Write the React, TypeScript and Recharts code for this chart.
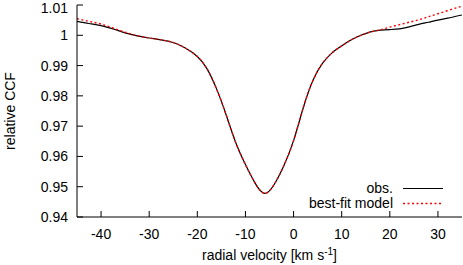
import { Legend, Line, LineChart, XAxis, YAxis } from 'recharts'

const velocity = [
  -45, -42.5, -40, -37.5, -35, -32.5, -30, -27.5, -25, -22.5, -20, -18, -16, -14, -12, -10, -8, -6, -4, -2, 0, 2, 4,
  6, 8, 10, 12, 14, 16, 18, 20, 22, 24, 26, 28, 30, 32.5, 35,
]
const observed = [
  1.0046, 1.0039, 1.0032, 1.0021, 1.0008, 0.9998, 0.9991, 0.9985, 0.9976, 0.9958, 0.993, 0.989, 0.9823, 0.9737, 0.9645,
  0.9573, 0.9512, 0.9478, 0.9508, 0.957, 0.9652, 0.976, 0.985, 0.9907, 0.9942, 0.9965, 0.9985, 1.0, 1.0011, 1.0017,
  1.0019, 1.0021, 1.0028, 1.0036, 1.0043, 1.005, 1.0058, 1.0067,
]
const bestFit = [
  1.0055, 1.0046, 1.0037, 1.0024, 1.001, 0.9999, 0.9991, 0.9985, 0.9976, 0.9958, 0.993, 0.989, 0.9823, 0.9737, 0.9645,
  0.9573, 0.9512, 0.9478, 0.9508, 0.957, 0.9652, 0.976, 0.985, 0.9907, 0.9942, 0.9965, 0.9985, 1.0, 1.0011, 1.0018,
  1.0027, 1.0035, 1.0043, 1.0051, 1.0061, 1.0071, 1.0084, 1.0096,
]
const xTicks = [-40, -30, -20, -10, 0, 10, 20, 30]
const yTicks = [0.94, 0.95, 0.96, 0.97, 0.98, 0.99, 1.0, 1.01]

const series = [
  { key: 'obs', name: 'obs.', color: '#000000', dash: undefined, width: 1.2 },
  { key: 'model', name: 'best-fit model', color: '#ff0000', dash: '2 2.5', width: 1.4 },
]

const data = velocity.map((v, i) => ({ v, obs: observed[i], model: bestFit[i] }))

const font = "'Liberation Sans', Arial, sans-serif"
const tickStyle = { fontSize: 14, fill: '#000', fontFamily: font }
const noLabel = () => <g />

const LegendBox = () => (
  <div style={{ fontFamily: font, fontSize: 14, color: '#000', lineHeight: '15px' }}>
    {series.map((s) => (
      <div key={s.key} style={{ display: 'flex', alignItems: 'center', justifyContent: 'flex-end' }}>
        <span>{s.name}</span>
        <svg width={52} height={15}>
          <line x1={10} x2={50} y1={7.5} y2={7.5} stroke={s.color} strokeWidth={s.width} strokeDasharray={s.dash} />
        </svg>
      </div>
    ))}
  </div>
)

const XLabel = ({ viewBox }: any) => (
  <text x={viewBox.x + viewBox.width / 2} y={viewBox.y + 43} textAnchor='middle' fontSize={14} fontFamily={font} fill='#000'>
    radial velocity [km s
    <tspan dy={-5} fontSize={10}>
      -1
    </tspan>
    <tspan dy={5}>]</tspan>
  </text>
)

export default function App() {
  return (
    <div style={{ position: 'absolute', left: 0, top: 0 }}>
      <LineChart width={463} height={265} data={data} margin={{ top: 5, right: 1, bottom: 0, left: 0 }}>
        <XAxis
          dataKey='v'
          type='number'
          domain={[-45, 35]}
          ticks={xTicks}
          allowDataOverflow
          height={48}
          tickSize={-6}
          tickMargin={18}
          tick={tickStyle}
          stroke='#000'
          label={<XLabel />}
        />
        <XAxis
          xAxisId='top'
          orientation='top'
          dataKey='v'
          type='number'
          domain={[-45, 35]}
          ticks={xTicks}
          allowDataOverflow
          height={0}
          tickSize={-6}
          tick={noLabel}
          stroke='#000'
        />
        <YAxis
          type='number'
          domain={[0.94, 1.01]}
          ticks={yTicks}
          allowDataOverflow
          width={77}
          tickSize={-6}
          tickMargin={15}
          tick={tickStyle}
          tickFormatter={(t: number) => String(+t.toFixed(2))}
          stroke='#000'
          label={{
            value: 'relative CCF',
            angle: -90,
            position: 'insideLeft',
            offset: 10,
            textAnchor: 'middle',
            style: { fontSize: 14, fill: '#000', fontFamily: font },
          }}
        />
        <YAxis
          yAxisId='right'
          orientation='right'
          type='number'
          domain={[0.94, 1.01]}
          ticks={yTicks}
          allowDataOverflow
          width={0}
          tickSize={-6}
          tick={noLabel}
          stroke='#000'
        />
        {series.map((s) => (
          <Line
            key={s.key}
            dataKey={s.key}
            name={s.name}
            type='natural'
            stroke={s.color}
            strokeWidth={s.width}
            strokeDasharray={s.dash}
            dot={false}
            activeDot={false}
            isAnimationActive={false}
          />
        ))}
        <Legend
          layout='vertical'
          align='center'
          verticalAlign='middle'
          content={<LegendBox />}
          wrapperStyle={{ top: 181, left: 'auto', right: 18, width: 'auto' }}
        />
      </LineChart>
    </div>
  )
}
